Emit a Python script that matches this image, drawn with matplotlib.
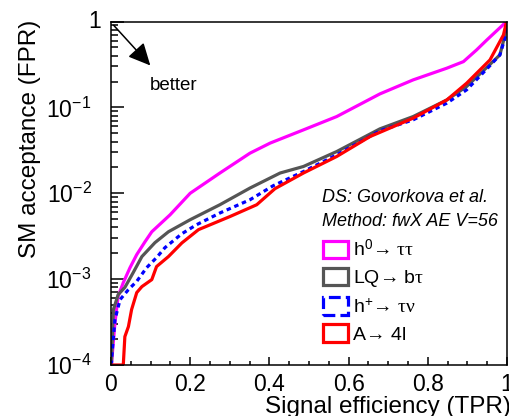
import matplotlib
matplotlib.use('Agg')
import matplotlib.pyplot as plt
from matplotlib.patches import Patch
from matplotlib.ticker import MultipleLocator, LogLocator, FuncFormatter, NullFormatter
import numpy as np

plt.rcParams['font.family'] = ['Liberation Sans', 'DejaVu Sans']
plt.rcParams['mathtext.fontset'] = 'custom'
plt.rcParams['mathtext.rm'] = 'Liberation Serif'
plt.rcParams['mathtext.it'] = 'Liberation Serif:italic'

# ROC curves: signal efficiency (TPR) vs SM acceptance (FPR)
tpr_h0 = [0.001, 0.010, 0.018, 0.031, 0.048, 0.065, 0.086, 0.103, 0.149, 0.200, 0.275,
          0.351, 0.402, 0.486, 0.570, 0.679, 0.763, 0.848, 0.890, 0.923, 0.949, 0.999]
fpr_h0 = [1.0e-4, 3.1e-4, 6.3e-4, 9.1e-4, 1.36e-3, 1.93e-3, 2.73e-3, 3.56e-3, 5.6e-3, 0.0100, 0.0172,
          0.0293, 0.0384, 0.0547, 0.0782, 0.1435, 0.209, 0.286, 0.341, 0.466, 0.609, 1.0]

tpr_lq = [0.001, 0.006, 0.018, 0.035, 0.056, 0.078, 0.111, 0.145, 0.200, 0.275, 0.351,
          0.427, 0.486, 0.570, 0.679, 0.763, 0.848, 0.898, 0.949, 0.982, 0.995, 1.0]
fpr_lq = [1.0e-4, 4.4e-4, 6.6e-4, 8.0e-4, 1.19e-3, 1.83e-3, 2.66e-3, 3.56e-3, 4.92e-3, 7.35e-3, 0.0115,
          0.0172, 0.0205, 0.0306, 0.0562, 0.0782, 0.122, 0.175, 0.292, 0.408, 0.697, 1.0]

tpr_hp = [0.001, 0.002, 0.010, 0.023, 0.044, 0.065, 0.090, 0.115, 0.136, 0.179, 0.216, 0.275,
          0.351, 0.409, 0.486, 0.570, 0.679, 0.763, 0.848, 0.898, 0.949, 0.982, 0.995, 1.0]
fpr_hp = [1.0e-4, 1.26e-4, 3.38e-4, 5.78e-4, 7.55e-4, 9.42e-4, 1.36e-3, 1.78e-3, 2.32e-3, 3.38e-3, 4.3e-3, 5.89e-3,
          8.4e-3, 0.0122, 0.0179, 0.0280, 0.0533, 0.0716, 0.112, 0.160, 0.280, 0.408, 0.643, 1.0]

tpr_a4l = [0.001, 0.031, 0.035, 0.044, 0.052, 0.065, 0.078, 0.103, 0.115, 0.145, 0.179, 0.221, 0.301,
           0.368, 0.414, 0.486, 0.570, 0.654, 0.763, 0.848, 0.898, 0.940, 0.957, 0.991, 0.999]
fpr_a4l = [1.0e-4, 1.0e-4, 2.14e-4, 2.8e-4, 4.42e-4, 6.97e-4, 8.18e-4, 9.87e-4, 1.4e-3, 1.83e-3, 2.64e-3, 3.77e-3, 5.37e-3,
           7.35e-3, 0.0113, 0.0172, 0.0268, 0.0457, 0.0749, 0.122, 0.191, 0.298, 0.357, 0.697, 1.0]

labels = [r'h$^{\mathdefault{0}}$→ $\mathrm{\tau\tau}$',
          r'LQ→ b$\mathrm{\tau}$',
          r'h$^{\mathdefault{+}}$→ $\mathrm{\tau\nu}$',
          r'A→ 4l']
colors = ['#ff00ff', '#555555', '#0000ff', '#ff0000']
styles = ['-', '-', (0, (1.4, 1.2)), '-']

W, H = 510, 416
fig = plt.figure(figsize=(W / 100, H / 100), dpi=100)
ax = fig.add_axes([111 / W, 1 - 365 / H, 396 / W, 343.5 / H])

curves = [(tpr_h0, fpr_h0), (tpr_lq, fpr_lq), (tpr_hp, fpr_hp), (tpr_a4l, fpr_a4l)]
for (x, y), c, ls in zip(curves, colors, styles):
    ax.plot(x, y, color=c, lw=2.3, ls=ls, solid_joinstyle='round')

ax.set_yscale('log')
ax.set_xlim(0, 1)
ax.set_ylim(1e-4, 1)

ax.xaxis.set_major_locator(MultipleLocator(0.2))
ax.xaxis.set_minor_locator(MultipleLocator(0.05))
ax.xaxis.set_major_formatter(FuncFormatter(lambda v, p: '%g' % round(v, 2)))
ax.yaxis.set_major_locator(LogLocator(base=10, numticks=10))
ax.yaxis.set_minor_locator(LogLocator(base=10, subs=np.arange(2, 10), numticks=20))
ax.yaxis.set_minor_formatter(NullFormatter())
# the "1" at the top is placed by hand below, ROOT puts it further right
ax.yaxis.set_major_formatter(FuncFormatter(
    lambda v, p: '' if v >= 0.99 else r'$\mathdefault{10^{%d}}$' % round(np.log10(v))))

ax.tick_params(axis='both', which='both', direction='in', top=False, right=False,
               width=1.1, labelsize=16.5, color='black')
ax.tick_params(axis='x', which='major', length=6, pad=6)
ax.tick_params(axis='x', which='minor', length=3)
ax.tick_params(axis='y', which='major', length=9, pad=14)
ax.tick_params(axis='y', which='minor', length=5)
for s in ax.spines.values():
    s.set_linewidth(1.1)

fig.text(101 / W, 1 - 22 / H, '1', ha='right', va='center', fontsize=16.5)

fig.text(511 / W, 1 - 413 / H, 'Signal efficiency (TPR)', ha='right', va='baseline', fontsize=17.5)
fig.text(36 / W, 1 - 20 / H, 'SM acceptance (FPR)', rotation=90, rotation_mode='anchor',
         ha='right', va='baseline', fontsize=17.5)

ax.annotate('', xy=(0.104, 0.866), xytext=(0.002, 0.995), xycoords='axes fraction',
            arrowprops=dict(arrowstyle='-|>,head_length=1.35,head_width=0.65', color='black', lw=1.1))
ax.text(0.099, 0.80, 'better', transform=ax.transAxes, fontsize=13.5, ha='left', va='baseline')

fig.text(322 / W, 1 - 201.5 / H, 'DS: Govorkova et al.', fontsize=13, style='italic', va='baseline')
fig.text(322 / W, 1 - 226 / H, 'Method: fwX AE V=56', fontsize=13, style='italic', va='baseline')

handles = [Patch(facecolor='none', edgecolor=c, lw=2.3, ls=('--' if i == 2 else '-'))
           for i, c in enumerate(colors)]
ax.legend(handles, labels, loc='upper left', bbox_to_anchor=(323 / W, 1 - 239 / H),
          bbox_transform=fig.transFigure, frameon=False, fontsize=14, borderpad=0,
          borderaxespad=0, handlelength=1.3, handleheight=1.0, handletextpad=0.25,
          labelspacing=0.4)

fig.savefig('out.png', dpi=100)
